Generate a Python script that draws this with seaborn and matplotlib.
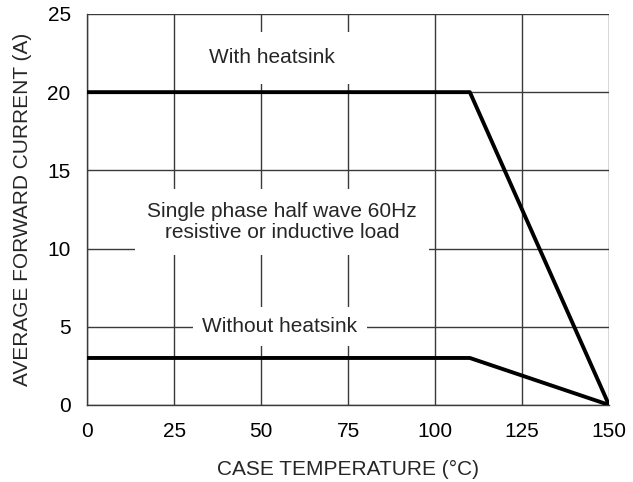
import matplotlib
matplotlib.use("Agg")
import matplotlib.pyplot as plt
import seaborn as sns
import pandas as pd

# derating curves
temp_with = [0, 110, 150]
current_with = [20, 20, 0]
temp_without = [0, 110, 150]
current_without = [3, 3, 0]

x_ticks = [0, 25, 50, 75, 100, 125, 150]
y_ticks = [0, 5, 10, 15, 20, 25]

sns.set_style("white")
plt.rcParams['font.family'] = ['Liberation Sans', 'DejaVu Sans']

df = pd.concat([
    pd.DataFrame({"temp": temp_with, "current": current_with, "curve": "with"}),
    pd.DataFrame({"temp": temp_without, "current": current_without, "curve": "without"}),
])

fig = plt.figure(figsize=(6.33, 4.82), dpi=100)
ax = fig.add_axes([0.138, 0.160, 0.824, 0.811])

sns.lineplot(data=df, x="temp", y="current", units="curve", estimator=None,
             color="black", linewidth=2.8, sort=False, ax=ax, zorder=3)

ax.set_xlim(0, 150)
ax.set_ylim(0, 25)
ax.set_xticks(x_ticks)
ax.set_yticks(y_ticks)
ax.grid(True, color="#3a3a3a", linewidth=1.0)
for s in ["top", "right"]:
    ax.spines[s].set_visible(False)
for s in ["left", "bottom"]:
    ax.spines[s].set_color("#3a3a3a")
    ax.spines[s].set_linewidth(1.0)
ax.tick_params(labelsize=15, length=0, pad=12, labelcolor="black")
ax.set_xlabel("CASE TEMPERATURE (°C)", fontsize=15, labelpad=14)
ax.set_ylabel("AVERAGE FORWARD CURRENT (A)", fontsize=15, labelpad=11)

ax.text(53.2, 22.2, "With heatsink", ha="center", va="center", fontsize=15,
        bbox=dict(facecolor="white", edgecolor="none", pad=12), zorder=4)
ax.text(56, 11.7, "Single phase half wave 60Hz\nresistive or inductive load",
        ha="center", va="center", fontsize=15, linespacing=1.15,
        bbox=dict(facecolor="white", edgecolor="none", pad=9), zorder=4)
ax.text(55.4, 5.0, "Without heatsink", ha="center", va="center", fontsize=15,
        bbox=dict(facecolor="white", edgecolor="none", pad=7), zorder=4)

fig.savefig("out.png", dpi=100)
